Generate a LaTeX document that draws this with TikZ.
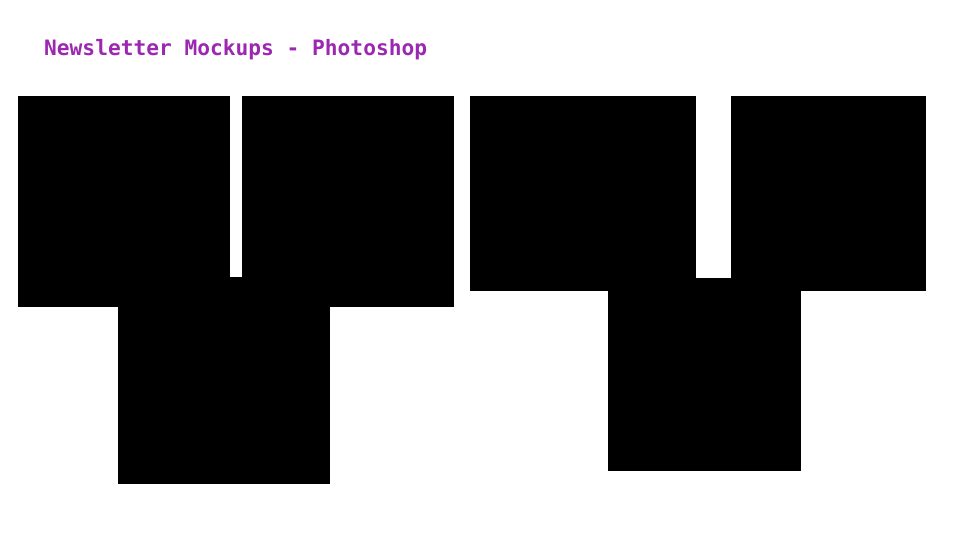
\documentclass[tikz,border=0pt]{standalone}
\usepackage{fontspec}
\setmonofont{DejaVu Sans Mono}
\usepackage{tikz}
\usetikzlibrary{positioning}
\definecolor{titlepurple}{HTML}{9C27B0}
\tikzstyle{heading}	=[anchor=base west, inner sep=0pt, text=titlepurple, font=\ttfamily\bfseries\fontsize{21.2}{25}\selectfont]
\tikzstyle{mockup}	=[rectangle, fill=black, anchor=north west, inner sep=0pt, outer sep=0pt]
\tikzstyle{wide}		=[minimum width=212pt]
\tikzstyle{narrow}	=[minimum width=195pt]

\begin{document}
\begin{tikzpicture}[x=1pt, y=-1pt]
	\useasboundingbox (0,0) rectangle (960,540);

	\node (Title)		[heading]														at (44, 56)		{Newsletter Mockups - Photoshop};

	% first mockup set
	\node (LeftA)		[mockup, wide, minimum height=211pt]				at (18, 96)		{};
	\node (LeftB)		[mockup, wide, minimum height=211pt]				at (242, 96)	{};
	\node (LeftC)		[mockup, wide, minimum height=207pt]				at (118, 277)	{};

	% second mockup set
	\node (RightA)	[mockup, minimum width=226pt, minimum height=195pt]	at (470, 96)	{};
	\node (RightB)	[mockup, narrow, minimum height=195pt]			at (731, 96)	{};
	\node (RightC)	[mockup, minimum width=193pt, minimum height=193pt]	at (608, 278)	{};

\end{tikzpicture}
\end{document}
